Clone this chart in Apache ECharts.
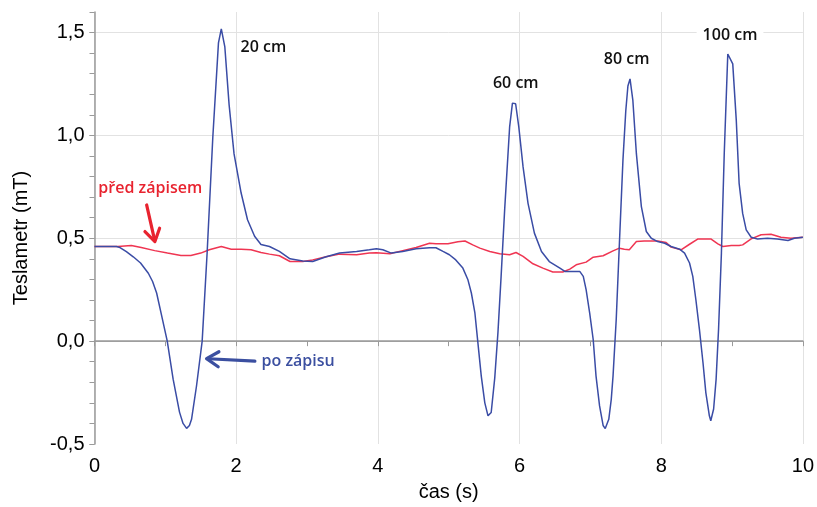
<!DOCTYPE html>
<html>
<head>
<meta charset="utf-8">
<script src="https://cdn.jsdelivr.net/npm/echarts@6/dist/echarts.min.js"></script>
<style>
  html, body { margin: 0; padding: 0; background: #fff; }
  #chart { width: 817px; height: 507px; }
</style>
</head>
<body>
<div id="chart"></div>
<script>
// ---- data ----
const blueT = [0, 0.31, 0.36, 0.45, 0.547, 0.65, 0.76, 0.82, 0.877, 0.95, 1.027, 1.11, 1.2, 1.25, 1.3, 1.34, 1.37, 1.44, 1.52, 1.59, 1.67, 1.75, 1.79, 1.84, 1.9, 1.97, 2.07, 2.16, 2.26, 2.35, 2.47, 2.61, 2.76, 2.94, 3.08, 3.27, 3.46, 3.7, 3.88, 3.98, 4.07, 4.19, 4.35, 4.54, 4.73, 4.82, 4.92, 5.01, 5.1, 5.2, 5.27, 5.32, 5.37, 5.41, 5.46, 5.51, 5.555, 5.6, 5.65, 5.695, 5.74, 5.79, 5.86, 5.9, 5.945, 5.99, 6.05, 6.12, 6.21, 6.31, 6.42, 6.57, 6.64, 6.85, 6.9, 6.94, 6.99, 7.04, 7.08, 7.13, 7.18, 7.21, 7.26, 7.295, 7.32, 7.365, 7.41, 7.46, 7.5, 7.53, 7.56, 7.6, 7.65, 7.72, 7.79, 7.86, 7.95, 8.05, 8.14, 8.26, 8.33, 8.4, 8.446, 8.49, 8.54, 8.59, 8.63, 8.68, 8.7, 8.74, 8.775, 8.81, 8.85, 8.89, 8.94, 8.96, 9.01, 9.06, 9.1, 9.15, 9.2, 9.27, 9.36, 9.5, 9.64, 9.79, 9.88, 10];
const blueV = [0.46, 0.46, 0.455, 0.435, 0.41, 0.38, 0.33, 0.29, 0.234, 0.12, 0.0, -0.185, -0.345, -0.4, -0.424, -0.41, -0.38, -0.218, 0.0, 0.43, 0.99, 1.45, 1.518, 1.43, 1.15, 0.91, 0.72, 0.59, 0.51, 0.47, 0.46, 0.436, 0.40, 0.39, 0.387, 0.41, 0.428, 0.436, 0.444, 0.449, 0.444, 0.428, 0.436, 0.449, 0.454, 0.454, 0.436, 0.42, 0.395, 0.355, 0.3, 0.234, 0.137, 0.0, -0.17, -0.3, -0.363, -0.347, -0.18, 0.04, 0.315, 0.638, 1.04, 1.157, 1.154, 1.04, 0.847, 0.67, 0.525, 0.436, 0.387, 0.355, 0.339, 0.339, 0.315, 0.25, 0.137, 0.008, -0.17, -0.315, -0.41, -0.425, -0.38, -0.283, -0.17, 0.105, 0.476, 0.88, 1.12, 1.24, 1.275, 1.17, 0.91, 0.654, 0.533, 0.5, 0.484, 0.476, 0.46, 0.447, 0.428, 0.38, 0.315, 0.2, 0.056, -0.105, -0.25, -0.363, -0.387, -0.33, -0.186, 0.06, 0.428, 0.912, 1.396, 1.404, 1.348, 1.073, 0.767, 0.621, 0.541, 0.505, 0.497, 0.5, 0.496, 0.489, 0.5, 0.505];

const redT = [0, 0.33, 0.52, 0.66, 0.85, 1.03, 1.22, 1.36, 1.5, 1.62, 1.79, 1.93, 2.07, 2.21, 2.35, 2.47, 2.61, 2.76, 2.94, 3.08, 3.27, 3.46, 3.7, 3.88, 3.98, 4.17, 4.35, 4.54, 4.73, 4.82, 4.99, 5.13, 5.23, 5.34, 5.44, 5.58, 5.72, 5.86, 5.95, 6.05, 6.19, 6.33, 6.47, 6.61, 6.71, 6.8, 6.94, 7.04, 7.18, 7.32, 7.41, 7.48, 7.55, 7.65, 7.76, 7.95, 8.07, 8.14, 8.28, 8.4, 8.52, 8.7, 8.8, 8.87, 8.99, 9.1, 9.15, 9.27, 9.41, 9.55, 9.69, 9.83, 10];
const redV = [0.46, 0.46, 0.465, 0.455, 0.44, 0.428, 0.416, 0.416, 0.428, 0.444, 0.46, 0.447, 0.447, 0.444, 0.431, 0.423, 0.415, 0.387, 0.387, 0.395, 0.41, 0.423, 0.42, 0.428, 0.43, 0.425, 0.44, 0.455, 0.476, 0.473, 0.473, 0.483, 0.487, 0.468, 0.452, 0.436, 0.425, 0.42, 0.431, 0.412, 0.376, 0.355, 0.336, 0.336, 0.35, 0.371, 0.384, 0.408, 0.415, 0.439, 0.452, 0.447, 0.444, 0.484, 0.487, 0.487, 0.479, 0.457, 0.444, 0.471, 0.497, 0.497, 0.473, 0.46, 0.465, 0.465, 0.468, 0.497, 0.517, 0.52, 0.505, 0.5, 0.505];

const xTicks = [0, 2, 4, 6, 8, 10];
const yTicks = [-0.5, 0.0, 0.5, 1.0, 1.5];

// annotations: [text, t, value]  (left-aligned, vertically centred)
const peakLabels = [
  ['20 cm', 2.062, 1.429],
  ['60 cm', 5.625, 1.251],
  ['80 cm', 7.19, 1.368],
  ['100 cm', 8.50, 1.485]
];
const redNote = ['před zápisem', 0.054, 0.743];
const blueNote = ['po zápisu', 2.358, -0.097];
const redArrow = [[0.736, 0.662], [0.853, 0.484]];   // tail, tip
const blueArrow = [[2.264, -0.097], [1.582, -0.085]]; // tail, tip

// ---- chart ----
const BLUE = '#3a4ca5';
const RED = '#ef3552';
const AXIS_FONT = '"Liberation Sans", Arial, sans-serif';
const NOTE_FONT = '"Open Sans", "Noto Sans", sans-serif';

const fmt = v => (Math.round(v * 10) / 10).toFixed(1).replace('.', ',');

const chart = echarts.init(document.getElementById('chart'), null, { renderer: 'canvas' });

const option = {
  animation: false,
  backgroundColor: '#fff',
  grid: { left: 94.5, right: 12.5, top: 12, bottom: 63, containLabel: false },
  xAxis: {
    type: 'value', min: xTicks[0], max: xTicks[xTicks.length - 1], interval: 2,
    name: 'čas (s)', nameLocation: 'middle', nameGap: 38,
    nameTextStyle: { color: '#000', fontSize: 20, fontFamily: AXIS_FONT },
    axisLine: { show: true, lineStyle: { color: '#9a9a9a', width: 1.5 } },
    axisTick: { show: true, length: 5, lineStyle: { color: '#9a9a9a' } },
    minorTick: { show: true, splitNumber: 2, length: 5, lineStyle: { color: '#9a9a9a' } },
    axisLabel: { color: '#000', fontSize: 20, fontFamily: AXIS_FONT, margin: 12 },
    splitLine: { show: true, lineStyle: { color: '#e2e2e2', width: 1 } }
  },
  yAxis: [{
    type: 'value', min: yTicks[0], max: 1.6, interval: 0.5,
    name: 'Teslametr (mT)', nameLocation: 'middle', nameGap: 63,
    nameTextStyle: { color: '#000', fontSize: 20, fontFamily: AXIS_FONT, padding: [0, 20, 0, 0] },
    axisLine: { show: true, lineStyle: { color: '#9a9a9a', width: 1.5 } },
    axisTick: { show: true, length: 5, lineStyle: { color: '#9a9a9a' } },
    axisLabel: {
      color: '#000', fontSize: 20, fontFamily: AXIS_FONT, margin: 10,
      showMaxLabel: false,
      formatter: v => (yTicks.some(t => Math.abs(t - v) < 1e-6) ? fmt(v) : '')
    },
    splitLine: {
      show: true,
      lineStyle: { color: ['rgba(0,0,0,0)', '#a8a8a8', '#e2e2e2', '#e2e2e2', '#e2e2e2', 'rgba(0,0,0,0)'], width: 1 }
    }
  }, {
    type: 'value', min: yTicks[0], max: 1.6, interval: 0.1, position: 'left',
    axisLine: { show: false },
    axisTick: { show: true, length: 5, lineStyle: { color: '#9a9a9a' } },
    axisLabel: { show: false },
    splitLine: { show: false }
  }],
  series: [
    {
      type: 'line', name: 'před zápisem', yAxisIndex: 0,
      data: redT.map((t, i) => [t, redV[i]]),
      showSymbol: false, symbol: 'none',
      lineStyle: { color: RED, width: 1.5 }, z: 2
    },
    {
      type: 'line', name: 'po zápisu', yAxisIndex: 0,
      data: blueT.map((t, i) => [t, blueV[i]]),
      showSymbol: false, symbol: 'none',
      lineStyle: { color: BLUE, width: 1.5 }, z: 3
    }
  ]
};
chart.setOption(option);

function px(t, v) { return chart.convertToPixel({ gridIndex: 0 }, [t, v]); }

function arrowShapes(tail, tip, color) {
  const a = px(tail[0], tail[1]);
  const b = px(tip[0], tip[1]);
  const dx = b[0] - a[0], dy = b[1] - a[1];
  const len = Math.sqrt(dx * dx + dy * dy);
  const ux = dx / len, uy = dy / len;
  const hl = 12, hw = 7.5;
  const base = [b[0] - ux * hl, b[1] - uy * hl];
  const w1 = [base[0] - uy * hw, base[1] + ux * hw];
  const w2 = [base[0] + uy * hw, base[1] - ux * hw];
  return [
    { type: 'polyline', shape: { points: [a, [b[0] - ux * 2, b[1] - uy * 2]] },
      style: { stroke: color, lineWidth: 3.2, lineCap: 'round' }, z: 10 },
    { type: 'polyline', shape: { points: [w1, b, w2] },
      style: { stroke: color, lineWidth: 3.2, lineCap: 'round', lineJoin: 'round', fill: null }, z: 10 }
  ];
}

function note(item, color, bg) {
  const p = px(item[1], item[2]);
  const st = {
    text: item[0], fill: color,
    font: '600 16px ' + NOTE_FONT,
    textAlign: 'left', textVerticalAlign: 'middle'
  };
  if (bg) { st.backgroundColor = '#fff'; st.padding = [1, 6]; }
  return { type: 'text', x: p[0], y: p[1], style: st, z: 11 };
}

const graphics = [];
peakLabels.forEach((l, i) => graphics.push(note(l, '#111', i === 3)));
graphics.push(note(redNote, '#e8232f'));
graphics.push(note(blueNote, '#3b4fa0'));
graphics.push(...arrowShapes(redArrow[0], redArrow[1], '#e8232f'));
graphics.push(...arrowShapes(blueArrow[0], blueArrow[1], '#3b4fa0'));
chart.setOption({ graphic: graphics });
</script>
</body>
</html>
